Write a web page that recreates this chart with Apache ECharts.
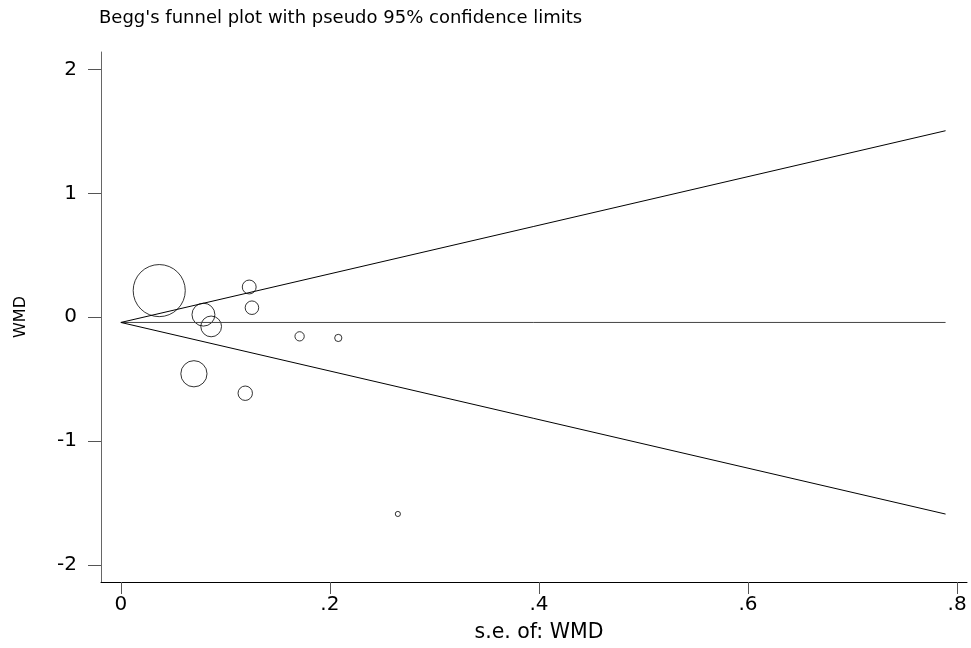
<!DOCTYPE html>
<html>
<head>
<meta charset="utf-8">
<script src="https://cdn.jsdelivr.net/npm/echarts@6/dist/echarts.min.js"></script>
<style>
html,body{margin:0;padding:0;background:#fff;}
#chart{width:971px;height:648px;}
</style>
</head>
<body>
<div id="chart"></div>
<script>
// Study points: standard error and WMD
const studySe  = [0.0367, 0.079, 0.0864, 0.0699, 0.1228, 0.1254, 0.119, 0.171, 0.208, 0.265];
const studyWmd = [0.215, 0.021, -0.074, -0.456, 0.244, 0.077, -0.613, -0.154, -0.167, -1.587];
// Funnel (pseudo 95% limits) endpoints
const funnelSe    = [0, 0.789];
const funnelUpper = [-0.042, 1.505];
const funnelLower = [-0.042, -1.588];
const pooledLine  = [-0.042, -0.042];
// Tick labels
const xTicks = [0, 0.2, 0.4, 0.6, 0.8];
const xTickLabels = ['0', '.2', '.4', '.6', '.8'];
const yTicks = [-2, -1, 0, 1, 2];
const yTickLabels = ['-2', '-1', '0', '1', '2'];

const font = '"DejaVu Sans", "Liberation Sans", Arial, sans-serif';
const chart = echarts.init(document.getElementById('chart'), null, {renderer: 'canvas'});

function pairs(xs, ys) { return xs.map((x, i) => [x, ys[i]]); }

const lineStyleBase = {color: '#000', width: 1};

chart.setOption({
  animation: false,
  backgroundColor: '#fff',
  title: {
    text: "Begg's funnel plot with pseudo 95% confidence limits",
    left: 99, top: 9, padding: 0,
    textStyle: {fontFamily: font, fontSize: 18, fontWeight: 'normal', color: '#000'}
  },
  grid: {left: 101, right: 4, top: 52, bottom: 59, containLabel: false},
  xAxis: {
    type: 'value', min: -0.019, max: 0.8095,
    name: 's.e. of: WMD', nameLocation: 'middle', nameGap: 40,
    nameTextStyle: {fontFamily: font, fontSize: 20.5, color: '#000', padding: [0, 0, 0, 10]},
    axisLine: {show: true, onZero: false, lineStyle: {color: '#000', width: 1}},
    axisTick: {show: true, length: 12, customValues: xTicks, lineStyle: {color: '#555'}},
    axisLabel: {
      customValues: xTicks, margin: 13,
      fontFamily: font, fontSize: 20, color: '#000',
      formatter: v => { const i = xTicks.findIndex(t => Math.abs(t - v) < 1e-9); return i >= 0 ? xTickLabels[i] : ''; }
    },
    splitLine: {show: false}
  },
  yAxis: {
    type: 'value', min: -2.136, max: 2.14,
    name: 'WMD', nameLocation: 'middle', nameGap: 72, nameRotate: 90,
    nameTextStyle: {fontFamily: font, fontSize: 16, color: '#000'},
    axisLine: {show: true, onZero: false, lineStyle: {color: '#666', width: 1}},
    axisTick: {show: true, length: 13, customValues: yTicks, lineStyle: {color: '#555'}},
    axisLabel: {
      customValues: yTicks, margin: 24,
      fontFamily: font, fontSize: 20, color: '#000',
      formatter: v => { const i = yTicks.findIndex(t => Math.abs(t - v) < 1e-9); return i >= 0 ? yTickLabels[i] : ''; }
    },
    splitLine: {show: false}
  },
  series: [
    {type: 'line', data: pairs(funnelSe, pooledLine), symbol: 'none', lineStyle: {color: '#444', width: 1}, silent: true},
    {type: 'line', data: pairs(funnelSe, funnelUpper), symbol: 'none', lineStyle: lineStyleBase, silent: true},
    {type: 'line', data: pairs(funnelSe, funnelLower), symbol: 'none', lineStyle: lineStyleBase, silent: true},
    {
      type: 'scatter',
      data: pairs(studySe, studyWmd),
      symbol: 'circle',
      symbolSize: d => 2 * (1 / d[0] - 1.2),
      itemStyle: {color: 'rgba(0,0,0,0)', borderColor: '#000', borderWidth: 1}
    }
  ]
});
</script>
</body>
</html>
